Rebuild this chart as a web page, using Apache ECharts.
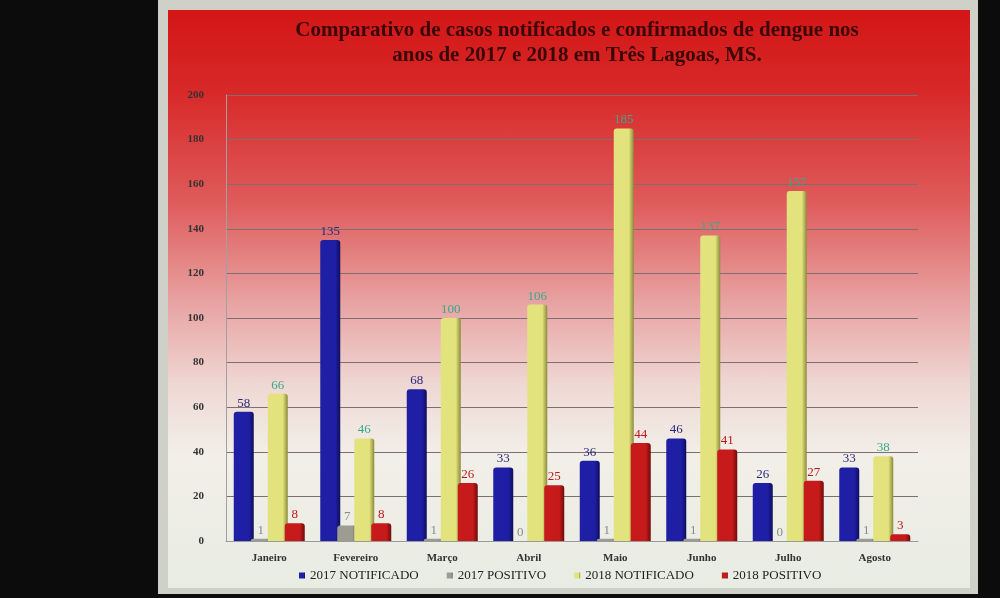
<!DOCTYPE html>
<html>
<head>
<meta charset="utf-8">
<script src="https://cdn.jsdelivr.net/npm/echarts@6/dist/echarts.min.js"></script>
<style>
  html, body { margin: 0; padding: 0; background: #0c0c0c; }
  #frame { position: absolute; left: 158px; top: 0; width: 820px; height: 594px; background: #cfd0c8; }
  #slide { position: absolute; left: 168px; top: 10px; width: 802px; height: 578px;
    background: linear-gradient(to bottom, #d31616 0%, #d82828 14%, #df5a5a 33%, #e8a4a4 51%, #efd8d4 65%, #f2efe8 77%, #e8ece2 100%); }
  #chart { position: absolute; left: 0; top: 0; width: 1000px; height: 598px; }
</style>
</head>
<body>
<div id="frame"></div>
<div id="slide"></div>
<div id="chart"></div>
<script>
// months and counts
const months = ['Janeiro', 'Fevereiro', 'Março', 'Abril', 'Maio', 'Junho', 'Julho', 'Agosto'];
const notificado2017 = [58, 135, 68, 33, 36, 46, 26, 33];
const positivo2017 = [1, 7, 1, 0, 1, 1, 0, 1];
const notificado2018 = [66, 46, 100, 106, 185, 137, 157, 38];
const positivo2018 = [8, 8, 26, 25, 44, 41, 27, 3];
const yTicks = { min: 0, max: 200, step: 20 };

const serif = '"Liberation Serif", "DejaVu Serif", serif';

function barSeries(name, data, color, side, labelColor) {
  return {
    name: name,
    type: 'bar',
    data: data,
    barWidth: 20,
    barGap: '-15%',
    itemStyle: {
      color: {
        type: 'linear', x: 0, y: 0, x2: 1, y2: 0,
        colorStops: [{ offset: 0, color: color }, { offset: 0.75, color: color }, { offset: 1, color: side }]
      },
      borderRadius: [3, 3, 0, 0]
    },
    label: {
      show: true,
      position: 'top',
      distance: 2,
      color: labelColor,
      fontFamily: serif,
      fontSize: 13
    }
  };
}

const chart = echarts.init(document.getElementById('chart'));
chart.setOption({
  backgroundColor: 'transparent',
  animation: false,
  title: {
    text: 'Comparativo de casos notificados e confirmados de dengue nos\nanos de 2017 e 2018 em Três Lagoas, MS.',
    left: 572,
    top: 13,
    textAlign: 'center',
    textStyle: { fontFamily: serif, fontSize: 21, fontWeight: 'bold', color: '#3a0808', lineHeight: 25 }
  },
  legend: {
    bottom: 11,
    left: 294,
    itemWidth: 6,
    itemHeight: 6,
    itemGap: 28,
    icon: 'rect',
    textStyle: { fontFamily: serif, fontSize: 13, color: '#222' },
    data: ['2017 NOTIFICADO', '2017 POSITIVO', '2018 NOTIFICADO', '2018 POSITIVO']
  },
  grid: { left: 226, right: 82, top: 95, bottom: 57 },
  xAxis: {
    type: 'category',
    data: months,
    axisLine: { lineStyle: { color: '#9a9a9a' } },
    axisTick: { show: false },
    axisLabel: { fontFamily: serif, fontSize: 11, fontWeight: 'bold', color: '#333', margin: 12 }
  },
  yAxis: {
    type: 'value',
    min: yTicks.min,
    max: yTicks.max,
    interval: yTicks.step,
    axisLine: { show: true, lineStyle: { color: '#a0a0a0' } },
    axisTick: { show: false },
    axisLabel: { fontFamily: serif, fontSize: 11, fontWeight: 'bold', color: '#333', margin: 22 },
    splitLine: { lineStyle: { color: '#7d6f6f', width: 1 } }
  },
  series: [
    barSeries('2017 NOTIFICADO', notificado2017, '#1f1fa6', '#0e0e5c', '#28287a'),
    barSeries('2017 POSITIVO', positivo2017, '#9c9c92', '#5e5e58', '#8a8a8a'),
    barSeries('2018 NOTIFICADO', notificado2018, '#e3e37e', '#8a8a3a', '#3aa88a'),
    barSeries('2018 POSITIVO', positivo2018, '#c71a1a', '#6e0c0c', '#c01818')
  ]
});
</script>
</body>
</html>
